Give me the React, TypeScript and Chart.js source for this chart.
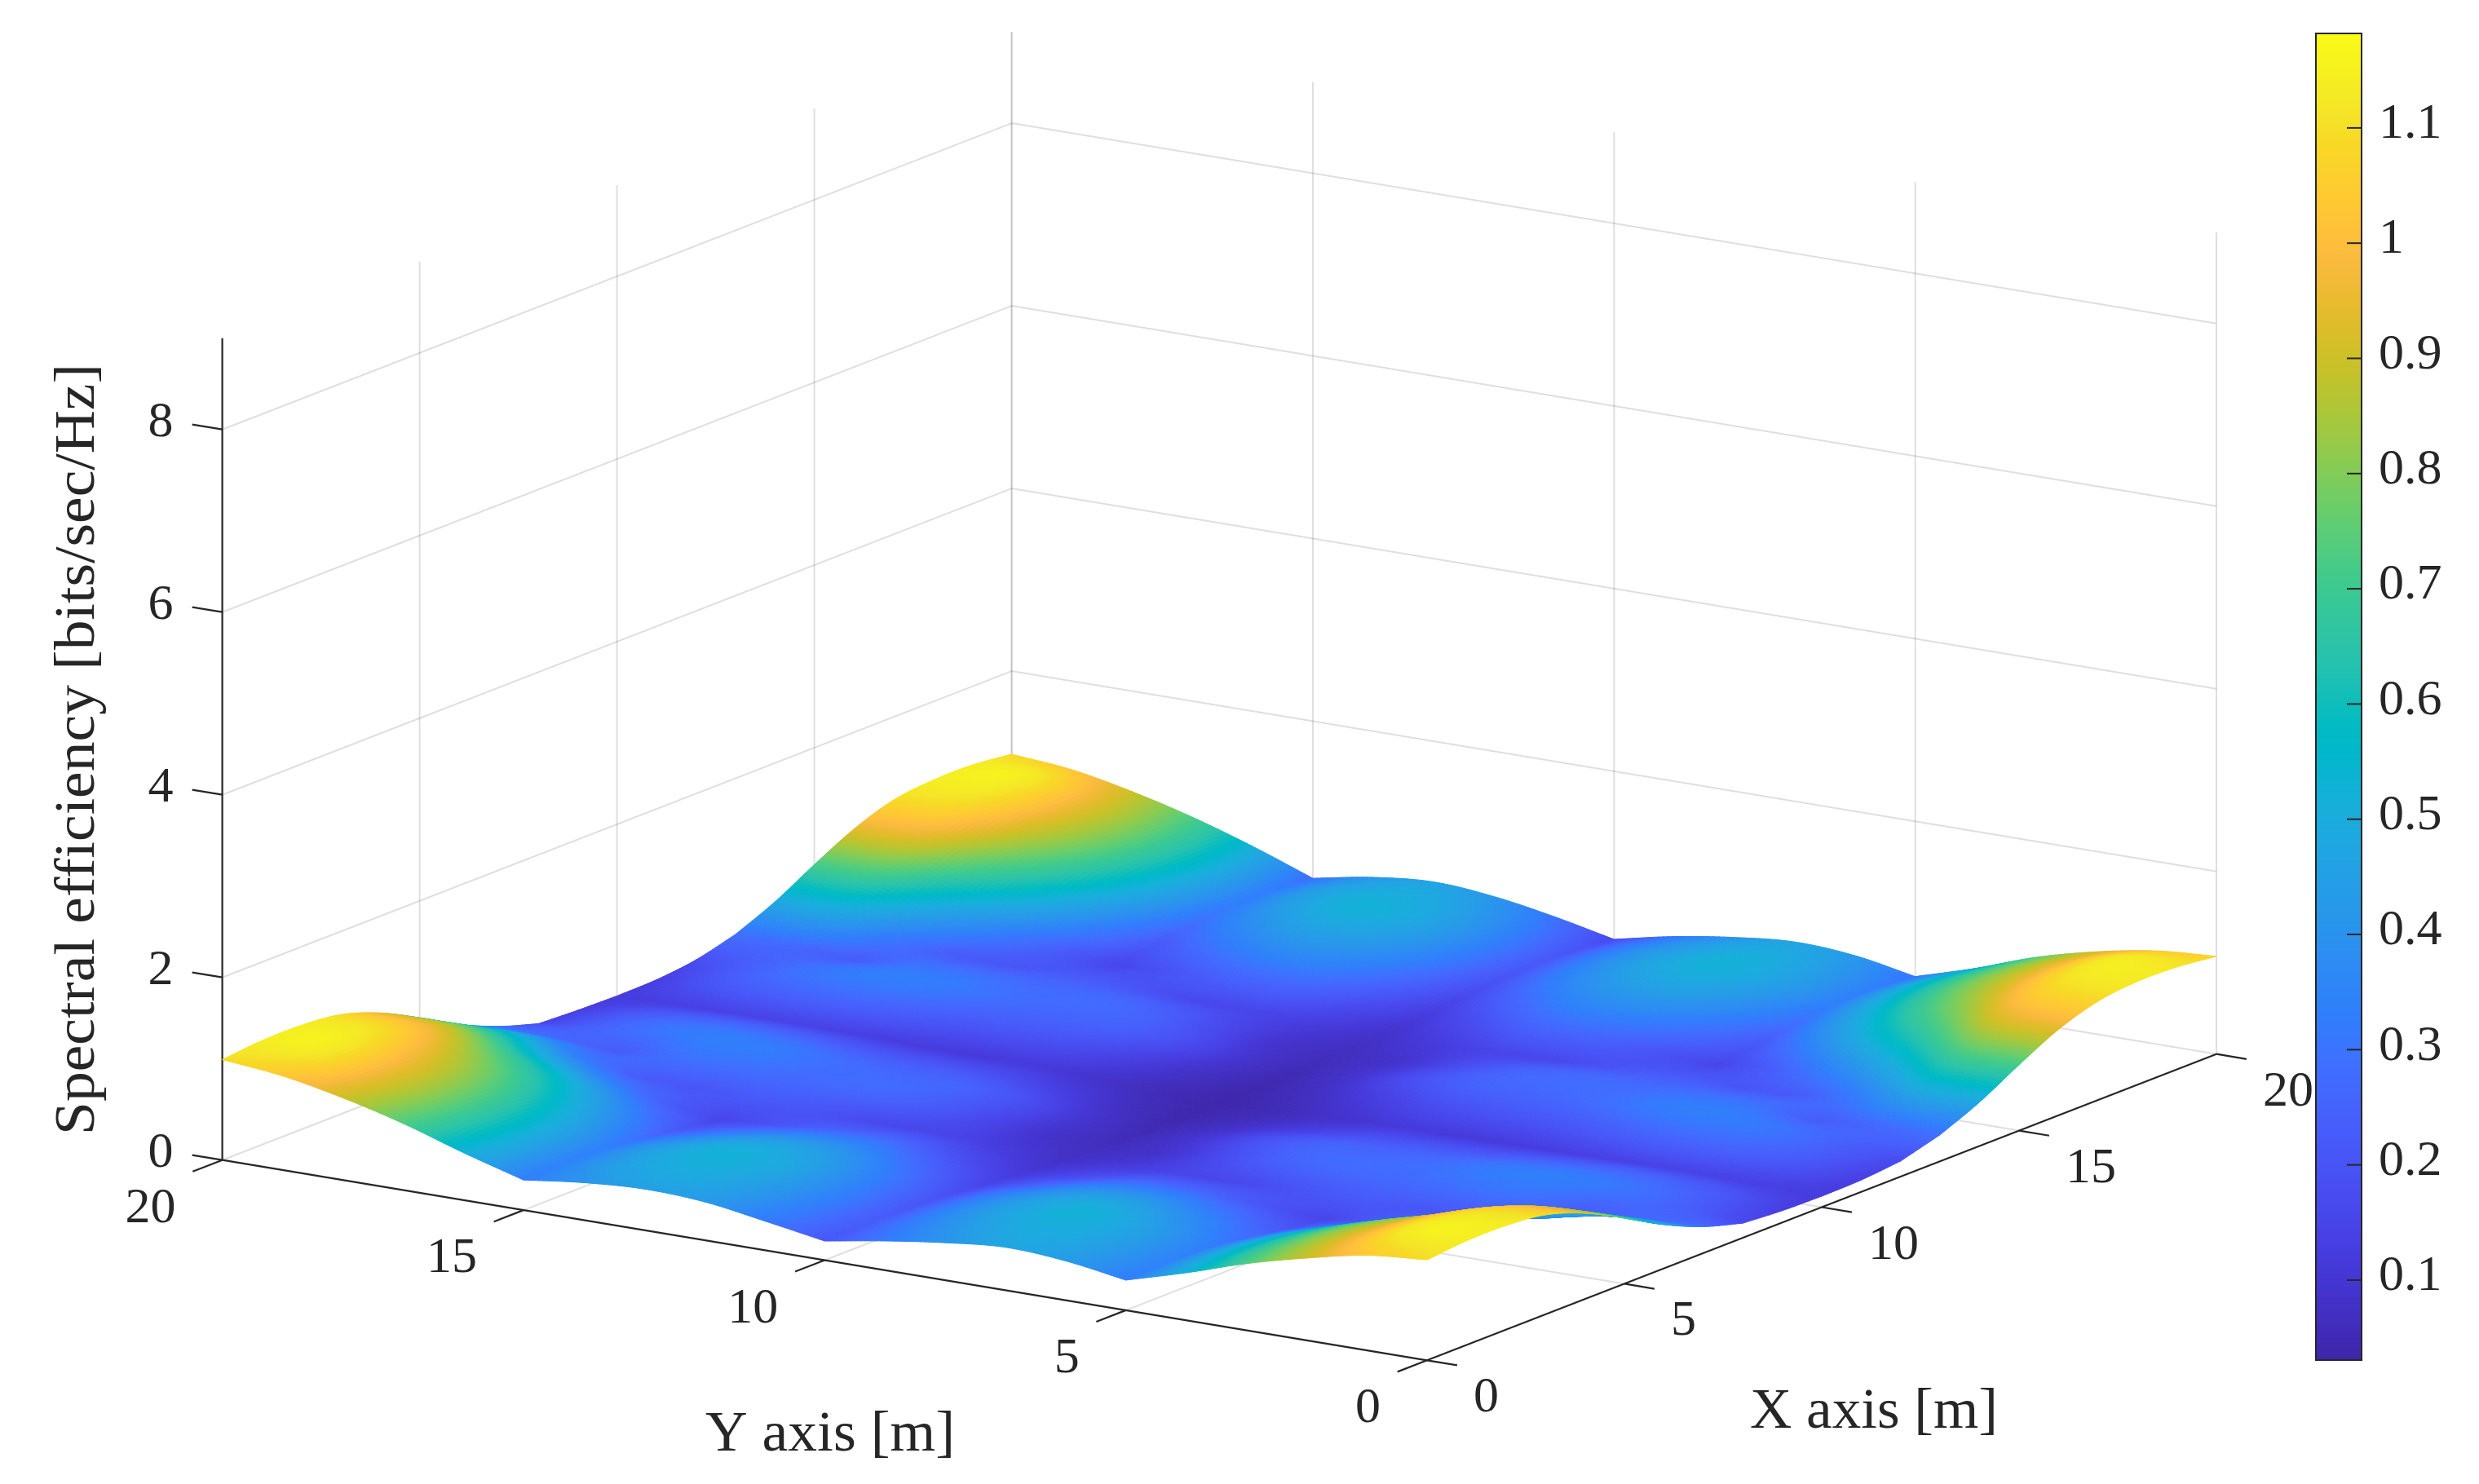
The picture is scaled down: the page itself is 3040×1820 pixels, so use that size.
import React, { useEffect, useRef } from "react";
import { Chart, registerables } from "chart.js";

Chart.register(...registerables);

// ---- surface values: spectral efficiency, one list per Y (m), X = 0..20 m
const zY00 = [1.10,1.14,1.14,1.09,.94,.72,.48,.29,.16,.13,.12,.13,.17,.29,.48,.72,.94,1.08,1.13,1.12,1.07];
const zY01 = [1.04,1.13,1.12,1.05,.91,.70,.48,.26,.24,.21,.13,.21,.24,.26,.48,.70,.91,1.05,1.12,1.12,1.02];
const zY02 = [.90,.94,.93,.86,.72,.52,.33,.22,.30,.25,.14,.25,.30,.22,.33,.52,.72,.86,.93,.94,.90];
const zY03 = [.73,.76,.75,.68,.55,.37,.22,.29,.33,.26,.14,.26,.33,.29,.22,.37,.55,.68,.75,.76,.73];
const zY04 = [.52,.55,.54,.48,.37,.24,.20,.29,.32,.24,.13,.24,.32,.29,.20,.24,.37,.48,.54,.55,.50];
const zY05 = [.33,.34,.33,.28,.21,.15,.22,.27,.28,.21,.12,.21,.28,.27,.22,.15,.21,.28,.33,.33,.30];
const zY06 = [.43,.45,.45,.39,.30,.20,.20,.27,.26,.20,.11,.20,.26,.27,.20,.20,.30,.39,.45,.45,.42];
const zY07 = [.47,.50,.52,.46,.36,.25,.16,.24,.25,.18,.11,.18,.25,.24,.16,.25,.36,.46,.52,.50,.46];
const zY08 = [.41,.45,.47,.43,.35,.25,.15,.17,.19,.13,.085,.13,.19,.17,.15,.25,.35,.43,.47,.45,.40];
const zY09 = [.32,.35,.36,.33,.26,.18,.12,.09,.10,.075,.055,.075,.10,.09,.12,.18,.26,.33,.36,.35,.30];
const zY10 = [.21,.22,.21,.19,.15,.11,.08,.065,.05,.04,.035,.04,.05,.065,.08,.11,.15,.19,.21,.20,.16];
const zY11 = [.32,.35,.36,.33,.26,.18,.12,.09,.10,.075,.055,.075,.10,.09,.12,.18,.26,.33,.36,.35,.30];
const zY12 = [.42,.46,.48,.44,.35,.25,.15,.17,.19,.13,.085,.13,.19,.17,.15,.25,.35,.43,.48,.46,.41];
const zY13 = [.45,.50,.52,.46,.36,.25,.16,.24,.25,.18,.11,.18,.25,.24,.16,.25,.36,.46,.52,.50,.46];
const zY14 = [.41,.45,.45,.39,.30,.20,.20,.27,.26,.20,.11,.20,.26,.27,.20,.20,.30,.39,.45,.45,.40];
const zY15 = [.33,.34,.33,.28,.21,.15,.22,.27,.28,.21,.12,.21,.28,.27,.22,.15,.21,.28,.32,.32,.28];
const zY16 = [.52,.55,.54,.48,.37,.24,.20,.29,.32,.24,.13,.24,.32,.29,.20,.24,.37,.48,.54,.55,.52];
const zY17 = [.73,.76,.75,.68,.55,.37,.22,.29,.33,.26,.14,.26,.33,.29,.22,.37,.55,.68,.75,.76,.73];
const zY18 = [.90,.94,.93,.86,.72,.52,.33,.22,.30,.25,.14,.25,.30,.22,.33,.52,.72,.86,.93,.94,.90];
const zY19 = [1.03,1.13,1.12,1.05,.91,.70,.48,.26,.24,.21,.13,.21,.24,.26,.48,.70,.91,1.05,1.12,1.13,1.03];
const zY20 = [1.10,1.14,1.14,1.09,.94,.72,.48,.29,.15,.13,.12,.13,.18,.29,.48,.72,.94,1.09,1.14,1.14,1.09];
const surfaceRows = [zY00,zY01,zY02,zY03,zY04,zY05,zY06,zY07,zY08,zY09,zY10,zY11,zY12,zY13,zY14,zY15,zY16,zY17,zY18,zY19,zY20];

// ---- ticks and labels
const xTicks = [0, 5, 10, 15, 20];
const yTicks = [0, 5, 10, 15, 20];
const zTicks = [0, 2, 4, 6, 8];
const wallZ = [2, 4, 6, 8];
const colorTicks = [0.1, 0.2, 0.3, 0.4, 0.5, 0.6, 0.7, 0.8, 0.9, 1, 1.1];
const colorMin = 0.0306;
const colorMax = 1.182;
const zTop = 9;
const xTitle = "X axis [m]";
const yTitle = "Y axis [m]";
const zTitle = "Spectral efficiency [bits/sec/Hz]";

// ---- parula colormap
const parula = [
[.2422,.1504,.6603],[.2504,.1650,.7076],[.2578,.1818,.7511],[.2647,.1978,.7952],[.2706,.2147,.8364],[.2751,.2342,.8710],
[.2783,.2559,.8991],[.2803,.2782,.9221],[.2813,.3006,.9414],[.2810,.3228,.9579],[.2795,.3447,.9717],[.2760,.3667,.9829],
[.2699,.3892,.9906],[.2602,.4123,.9952],[.2440,.4358,.9988],[.2206,.4603,.9973],[.1963,.4847,.9892],[.1834,.5074,.9798],
[.1786,.5289,.9682],[.1764,.5499,.9520],[.1687,.5703,.9359],[.1540,.5902,.9218],[.1460,.6091,.9079],[.1380,.6276,.8973],
[.1248,.6459,.8883],[.1113,.6635,.8763],[.0952,.6798,.8598],[.0689,.6948,.8394],[.0297,.7082,.8163],[.0036,.7203,.7917],
[.0067,.7312,.7660],[.0433,.7411,.7394],[.0964,.7500,.7120],[.1408,.7584,.6842],[.1717,.7670,.6554],[.1938,.7758,.6251],
[.2161,.7843,.5923],[.2470,.7918,.5567],[.2906,.7973,.5188],[.3406,.8008,.4789],[.3909,.8029,.4354],[.4456,.8024,.3909],
[.5044,.7993,.3480],[.5616,.7942,.3045],[.6174,.7876,.2612],[.6720,.7793,.2227],[.7242,.7698,.1910],[.7738,.7598,.1646],
[.8203,.7498,.1535],[.8634,.7406,.1596],[.9035,.7330,.1774],[.9393,.7288,.2100],[.9728,.7298,.2394],[.9956,.7434,.2371],
[.9970,.7659,.2199],[.9952,.7861,.1989],[.9892,.8086,.1811],[.9786,.8317,.1614],[.9676,.8545,.1438],[.9610,.8890,.1537],
[.9597,.9135,.1423],[.9628,.9373,.1265],[.9691,.9606,.1064],[.9769,.9839,.0805]];

function colorOf(z: number) {
  const t = Math.min(1, Math.max(0, (z - colorMin) / (colorMax - colorMin))) * (parula.length - 1);
  const i = Math.min(parula.length - 2, Math.floor(t));
  const f = t - i;
  const a = parula[i], b = parula[i + 1];
  const c = [0, 1, 2].map((k) => Math.round(255 * (a[k] + (b[k] - a[k]) * f)));
  return `rgb(${c[0]},${c[1]},${c[2]})`;
}

// ---- orthographic view of the MATLAB 3-D axes
const view = { u0: 1750, ux: 48.4, uy: -73.87, v0: 1668.3, vx: -18.78, vy: -12.28, vz: -112 };
const project = (X: number, Y: number, Z: number) => ({
  x: view.u0 + view.ux * X + view.uy * Y,
  y: view.v0 + view.vx * X + view.vy * Y + view.vz * Z,
});

const INK = "#262626";
const GRID = "rgba(38,38,38,0.15)";
const FONT = '"Liberation Serif"';

function seg(a: any, b: any, color: string, width: number) {
  return { data: [a, b], showLine: true, borderColor: color, borderWidth: width, pointRadius: 0, clip: false, borderCapStyle: "butt" };
}

function buildDatasets() {
  const ds: any[] = [];
  for (const z of wallZ) {
    ds.push(seg(project(0, 20, z), project(20, 20, z), GRID, 2));
    ds.push(seg(project(20, 20, z), project(20, 0, z), GRID, 2));
  }
  for (const x of xTicks) {
    if (x > 0) ds.push(seg(project(x, 20, 0), project(x, 20, zTop), GRID, 2));
    if (x > 0) ds.push(seg(project(x, 0, 0), project(x, 20, 0), GRID, 2));
  }
  for (const y of yTicks) {
    ds.push(seg(project(20, y, 0), project(20, y, zTop), GRID, 2));
    if (y > 0) ds.push(seg(project(0, y, 0), project(20, y, 0), GRID, 2));
  }
  ds.push(seg(project(0, 0, 0), project(20, 0, 0), INK, 2.2));
  ds.push(seg(project(0, 0, 0), project(0, 20, 0), INK, 2.2));
  ds.push(seg(project(0, 20, 0), project(0, 20, zTop), INK, 2.2));
  for (const x of xTicks) ds.push(seg(project(x, 0, 0), project(x, -0.5, 0), INK, 2.2));
  for (const y of yTicks) ds.push(seg(project(0, y, 0), project(-0.75, y, 0), INK, 2.2));
  for (const z of zTicks) ds.push(seg(project(0, 20, z), project(0, 20.5, z), INK, 2.2));
  const nodes: any[] = [];
  surfaceRows.forEach((row, Y) => row.forEach((Z, X) => nodes.push({ ...project(X, Y, Z), z: Z })));
  ds.push({ label: "surface", data: nodes, showLine: false, pointRadius: 0, clip: false });
  return ds;
}

// Shading between the table's nodes: a cubic that keeps the valleys as creases.
const SUB = 12;
const CREASE = 0.07;
function shade(f: number[]) {
  const out: number[] = [];
  const n = f.length;
  const tangents = (i: number) => {
    const dl = i > 0 ? f[i] - f[i - 1] : f[1] - f[0];
    const dr = i < n - 1 ? f[i + 1] - f[i] : f[n - 1] - f[n - 2];
    if ((dl < 0 && dr > 0) || dr - dl > CREASE) return [dl, dr];
    const m = (dl + dr) / 2;
    return [m, m];
  };
  for (let i = 0; i < n - 1; i++) {
    const m0 = tangents(i)[1], m1 = tangents(i + 1)[0];
    for (let k = 0; k < SUB; k++) {
      const t = k / SUB, t2 = t * t, t3 = t2 * t;
      out.push((2 * t3 - 3 * t2 + 1) * f[i] + (t3 - 2 * t2 + t) * m0 + (-2 * t3 + 3 * t2) * f[i + 1] + (t3 - t2) * m1);
    }
  }
  out.push(f[n - 1]);
  return out;
}

const surfacePlugin = {
  id: "surface",
  afterDatasetsDraw(chart: any) {
    const { ctx, scales } = chart;
    const ds = chart.data.datasets.find((d: any) => d.label === "surface");
    const n = surfaceRows[0].length;
    const rows = surfaceRows.map((_, Y) => shade(surfaceRows[Y].map((__, X) => ds.data[Y * n + X].z)));
    const m = rows[0].length;
    const cols: number[][] = [];
    for (let ix = 0; ix < m; ix++) cols.push(shade(rows.map((r) => r[ix])));
    const pt = (ix: number, iy: number) => {
      const p = project(ix / SUB, iy / SUB, cols[ix][iy]);
      return { x: scales.x.getPixelForValue(p.x), y: scales.y.getPixelForValue(p.y), z: cols[ix][iy] };
    };
    ctx.save();
    ctx.lineWidth = 1;
    ctx.lineJoin = "round";
    for (let iy = m - 2; iy >= 0; iy--) {
      for (let ix = m - 2; ix >= 0; ix--) {
        const p = pt(ix, iy), q = pt(ix + 1, iy), r = pt(ix + 1, iy + 1), w = pt(ix, iy + 1);
        const col = colorOf((p.z + q.z + r.z + w.z) / 4);
        ctx.fillStyle = col;
        ctx.strokeStyle = col;
        ctx.beginPath();
        ctx.moveTo(p.x, p.y);
        ctx.lineTo(q.x, q.y);
        ctx.lineTo(r.x, r.y);
        ctx.lineTo(w.x, w.y);
        ctx.closePath();
        ctx.fill();
        ctx.stroke();
      }
    }
    ctx.restore();
  },
};

const decorPlugin = {
  id: "decor",
  afterDraw(chart: any) {
    const { ctx, scales, chartArea } = chart;
    const sx = (v: number) => scales.x.getPixelForValue(v);
    const sy = (v: number) => scales.y.getPixelForValue(v);
    ctx.save();
    const c = scales.c;
    const left = sx(2840), right = chartArea.right;
    for (let y = Math.floor(c.top); y < c.bottom; y++) {
      ctx.fillStyle = colorOf(c.getValueForPixel(y + 0.5));
      ctx.fillRect(left, y, right - left, 1);
    }
    ctx.strokeStyle = INK;
    ctx.lineWidth = 2;
    ctx.strokeRect(left, c.top, right - left, c.bottom - c.top);
    for (const v of colorTicks) {
      const y = c.getPixelForValue(v);
      ctx.beginPath();
      ctx.moveTo(right, y);
      ctx.lineTo(right - 18, y);
      ctx.stroke();
    }
    ctx.fillStyle = INK;
    ctx.font = `62px ${FONT}`;
    ctx.textBaseline = "alphabetic";
    ctx.textAlign = "left";
    for (const x of xTicks) {
      const p = project(x, 0, 0);
      ctx.fillText(String(x), sx(p.x) + 57, sy(p.y) + 42 + 21);
    }
    ctx.textAlign = "right";
    for (const y of yTicks) {
      const p = project(0, y, 0);
      ctx.fillText(String(y), sx(p.x) - 57, sy(p.y) + 55 + 21);
    }
    for (const z of zTicks) {
      const p = project(0, 20, z);
      ctx.fillText(String(z), sx(p.x) - 60, sy(p.y) - 13 + 21);
    }
    const title = (text: string, cx: number, cy: number, width: number, rot: number) => {
      ctx.save();
      ctx.font = `70px ${FONT}`;
      ctx.textAlign = "center";
      ctx.textBaseline = "middle";
      ctx.translate(cx, cy);
      ctx.rotate(rot);
      ctx.scale(width / ctx.measureText(text).width, 1);
      ctx.fillText(text, 0, 0);
      ctx.restore();
    };
    title(xTitle, 2298, 1733, 304, 0);
    title(yTitle, 1018, 1761, 306, 0);
    title(zTitle, 97, 919, 946, -Math.PI / 2);
    ctx.restore();
  },
};

export default function App() {
  const ref = useRef<HTMLCanvasElement | null>(null);
  useEffect(() => {
    if (!ref.current) return;
    const chart = new Chart(ref.current, {
      type: "scatter",
      data: { datasets: buildDatasets() },
      plugins: [surfacePlugin, decorPlugin],
      options: {
        animation: false,
        responsive: false,
        devicePixelRatio: 1,
        events: [],
        layout: { padding: { left: 0, right: 0, top: 41, bottom: 152 } },
        plugins: { legend: { display: false }, tooltip: { enabled: false } },
        scales: {
          x: { type: "linear", display: false, min: 0, max: 2896 },
          y: { type: "linear", display: false, min: 41, max: 1668, reverse: true },
          c: {
            type: "linear",
            axis: "y",
            position: "right",
            min: colorMin,
            max: colorMax,
            border: { display: false },
            grid: { drawOnChartArea: false, drawTicks: false },
            afterBuildTicks: (s: any) => { s.ticks = colorTicks.map((value) => ({ value })); },
            afterFit: (s: any) => { s.width = 144; s.paddingTop = 0; s.paddingBottom = 0; },
            ticks: {
              autoSkip: false,
              padding: 21,
              labelOffset: -4,
              color: INK,
              font: { family: "Liberation Serif", size: 62 },
              callback: (v: any) => String(v),
            },
          },
        },
      } as any,
    } as any);
    return () => chart.destroy();
  }, []);
  return (
    <canvas
      ref={ref}
      width={3040}
      height={1820}
      style={{ position: "fixed", left: 0, top: 0, width: 3040, height: 1820, background: "#fff" }}
    />
  );
}
